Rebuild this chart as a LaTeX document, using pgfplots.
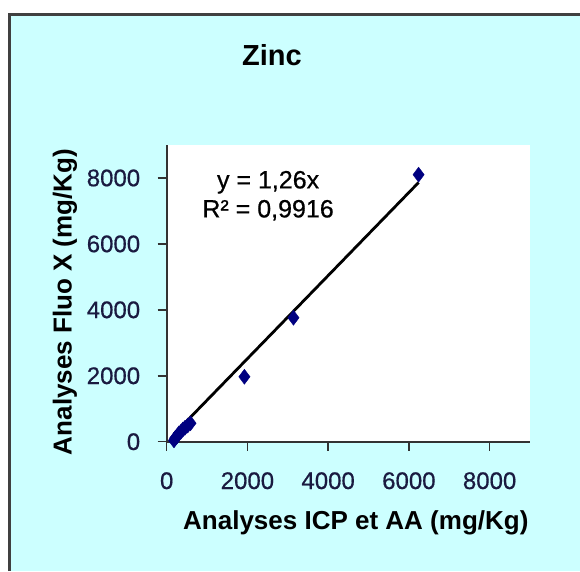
\documentclass[border=0pt]{standalone}
\usepackage{pgfplots}
\pgfplotsset{compat=1.18}
\usepackage{fontspec}
\setmainfont{Liberation Sans}
\newfontfamily\heavyfont[FakeBold=0.6]{Liberation Sans}
\definecolor{bgcyan}{HTML}{CCFFFF}
\definecolor{framegray}{HTML}{404040}
\definecolor{navy}{HTML}{000080}
\definecolor{ticktext}{HTML}{1A1A40}
\begin{document}
\begin{tikzpicture}
\path[use as bounding box] (0pt,0pt) rectangle (580pt,-571pt);
\fill[white] (0pt,0pt) rectangle (580pt,-571pt);
\fill[bgcyan] (8pt,-13pt) rectangle (580pt,-571pt);
\draw[framegray, line width=3pt] (9.7pt,-571pt) -- (9.7pt,-14.2pt) -- (580pt,-14.2pt);
\node[font=\bfseries\fontsize{29pt}{34pt}\selectfont] at (272pt,-55pt) {Zinc};
\begin{axis}[
  at={(166.7pt,-441.7pt)}, anchor=south west,
  scale only axis, width=363.3pt, height=296.7pt,
  xmin=0, xmax=9000, ymin=0, ymax=9000,
  axis x line=bottom, axis y line=left,
  axis line style={-, black!80, line width=1.6pt},
  axis background/.style={fill=white},
  xtick={0,2000,4000,6000,8000},
  ytick={0,2000,4000,6000,8000},
  tick align=outside, major tick length=9pt,
  tick style={black!80, line width=1.5pt},
  /pgf/number format/assume math mode=true,
  /pgf/number format/set thousands separator={},
  ticklabel style={font=\heavyfont\fontsize{24pt}{28pt}\selectfont, text=ticktext},
  xticklabel style={yshift=-18pt},
  yticklabel style={xshift=-14pt},
  xlabel={Analyses ICP et AA (mg/Kg)},
  ylabel={Analyses Fluo X (mg/Kg)},
  xlabel style={at={(axis description cs:0.5206,-0.274)}, anchor=center, font=\bfseries\fontsize{26pt}{30pt}\selectfont},
  ylabel style={at={(axis description cs:-0.28,0.471)}, anchor=center, rotate=0, font=\bfseries\fontsize{26pt}{30pt}\selectfont},
  clip=false,
]
\addplot[only marks, mark=diamond*, mark size=7.5pt, navy, mark options={fill=navy, draw=navy}] coordinates {
  (180,40) (210,110) (250,150) (300,250) (350,300) (400,370) (450,420) (520,490) (590,560)
  (1925,1970) (3140,3760) (6240,8100)
};
\addplot[black, line width=2.8pt] coordinates {(180,226.8) (6240,7862.4)};
\node[align=center, font=\heavyfont\fontsize{25pt}{29pt}\selectfont] at (axis cs:2512,7460) {y = 1,26x\\R² = 0,9916};
\end{axis}
\end{tikzpicture}
\end{document}
